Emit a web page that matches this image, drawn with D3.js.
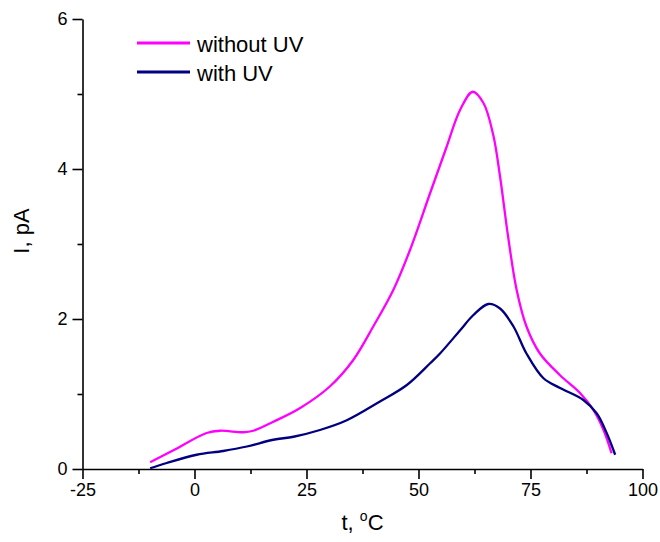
<!DOCTYPE html>
<html>
<head>
<meta charset="utf-8">
<script src="https://cdn.jsdelivr.net/npm/d3@7"></script>
<style>
  body { margin: 0; background: #fff; }
  text { font-family: "Liberation Sans", Arial, sans-serif; }
</style>
</head>
<body>
<script>
// temperature (deg C) and current (pA)
const tWithout = [-9.9, -4.7, 2.7, 5.7, 10.9, 13.1, 17.6, 23.5, 30.2, 35.4, 39.9, 44.4, 48.1, 52.6, 56.3, 59.3, 62.1, 64.5, 66.7, 68.2, 70.0, 71.9, 74.1, 77.1, 81.6, 86.1, 89.0, 91.3, 93.1];
const iWithout = [0.09, 0.25, 0.48, 0.51, 0.49, 0.51, 0.63, 0.81, 1.10, 1.45, 1.90, 2.39, 2.92, 3.68, 4.30, 4.79, 5.03, 4.88, 4.45, 3.90, 3.10, 2.39, 1.90, 1.54, 1.25, 1.01, 0.79, 0.52, 0.21];

const tWith = [-9.9, -6.2, 0.5, 6.4, 11.7, 17.6, 22.1, 28.0, 34.0, 41.4, 47.4, 52.6, 54.8, 59.3, 62.2, 65.6, 68.2, 71.2, 74.1, 77.9, 81.6, 86.8, 89.8, 92.0, 93.9];
const iWith = [0.01, 0.08, 0.19, 0.24, 0.30, 0.39, 0.43, 0.52, 0.65, 0.90, 1.12, 1.41, 1.54, 1.85, 2.05, 2.20, 2.14, 1.90, 1.54, 1.21, 1.08, 0.92, 0.74, 0.48, 0.19];

const xTicks = [-25, 0, 25, 50, 75, 100];
const xMinor = [-12.5, 12.5, 37.5, 62.5, 87.5];
const yTicks = [0, 2, 4, 6];
const yMinor = [1, 3, 5];

const seriesNames = ['without UV', 'with UV'];
const seriesColors = ['#ff00ff', '#000080'];

const width = 660, height = 542;
const margin = {top: 19, right: 17.5, bottom: 73, left: 82.5};

const svg = d3.select('body').append('svg')
  .attr('width', width)
  .attr('height', height);

const x = d3.scaleLinear().domain([-25, 100]).range([margin.left, width - margin.right]);
const y = d3.scaleLinear().domain([0, 6]).range([height - margin.bottom, margin.top]);

// plain hyphen, no decimals, like the original
const plain = d => String(d);

// minor ticks first
svg.append('g')
  .attr('transform', `translate(0,${y(0)})`)
  .call(d3.axisBottom(x).tickValues(xMinor).tickSize(5).tickSizeOuter(0).tickFormat(''))
  .call(g => g.select('.domain').remove());
svg.append('g')
  .attr('transform', `translate(${x(-25)},0)`)
  .call(d3.axisLeft(y).tickValues(yMinor).tickSize(5).tickSizeOuter(0).tickFormat(''))
  .call(g => g.select('.domain').remove());

// major axes
const xAxis = svg.append('g')
  .attr('transform', `translate(0,${y(0)})`)
  .call(d3.axisBottom(x).tickValues(xTicks).tickSize(10).tickSizeOuter(0).tickPadding(4).tickFormat(plain));
const yAxis = svg.append('g')
  .attr('transform', `translate(${x(-25)},0)`)
  .call(d3.axisLeft(y).tickValues(yTicks).tickSize(10).tickSizeOuter(0).tickPadding(5).tickFormat(plain));

[xAxis, yAxis].forEach(g => {
  g.selectAll('text').attr('font-size', 18).attr('fill', '#000')
    .style('font-family', '"Liberation Sans", Arial, sans-serif');
  g.selectAll('line, path').attr('stroke', '#000').attr('stroke-width', 1.6);
});
svg.selectAll('g line').attr('stroke', '#000').attr('stroke-width', 1.6);

// curves
const line = d3.line()
  .x(d => x(d[0]))
  .y(d => y(d[1]))
  .curve(d3.curveCatmullRom.alpha(0.5));

const series = [
  d3.zip(tWithout, iWithout),
  d3.zip(tWith, iWith)
];

svg.append('g')
  .selectAll('path')
  .data(series)
  .join('path')
  .attr('d', line)
  .attr('fill', 'none')
  .attr('stroke', (d, i) => seriesColors[i])
  .attr('stroke-width', 2.3)
  .attr('stroke-linejoin', 'round');

// legend
const legend = svg.append('g');
seriesNames.forEach((name, i) => {
  const ly = 43 + i * 29;
  legend.append('line')
    .attr('x1', 137).attr('x2', 190)
    .attr('y1', ly).attr('y2', ly)
    .attr('stroke', seriesColors[i])
    .attr('stroke-width', 3);
  legend.append('text')
    .attr('x', 197).attr('y', ly + 9)
    .attr('font-size', 22)
    .attr('fill', '#000')
    .text(name);
});

// axis titles
const xTitle = svg.append('text')
  .attr('x', (x(-25) + x(100)) / 2)
  .attr('y', 530)
  .attr('text-anchor', 'middle')
  .attr('font-size', 22)
  .attr('fill', '#000');
xTitle.append('tspan').text('t, ');
xTitle.append('tspan').attr('font-size', 14).attr('dy', -9).text('o');
xTitle.append('tspan').attr('dy', 9).text('C');

svg.append('text')
  .attr('transform', 'translate(29,231) rotate(-90)')
  .attr('text-anchor', 'middle')
  .attr('font-size', 22)
  .attr('fill', '#000')
  .text('I, pA');
</script>
</body>
</html>
